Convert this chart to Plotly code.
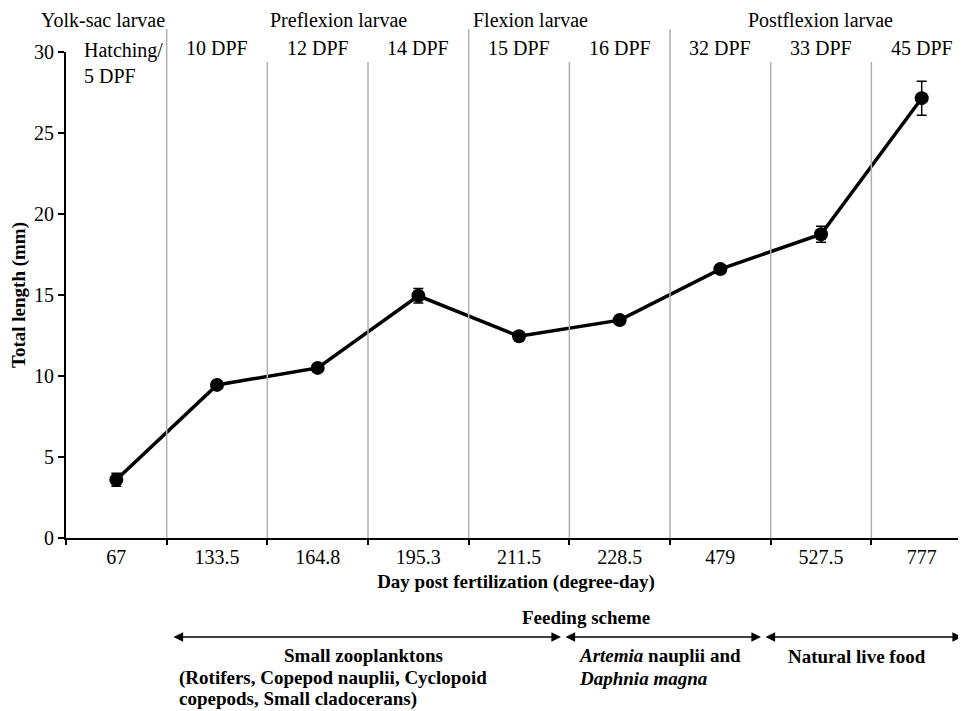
import plotly.graph_objects as go

categories = ["67", "133.5", "164.8", "195.3", "211.5", "228.5", "479", "527.5", "777"]
length_mm = [3.6, 9.45, 10.5, 14.95, 12.45, 13.45, 16.6, 18.75, 27.15]
length_err = [0.4, 0.15, 0.15, 0.45, 0.15, 0.15, 0.25, 0.5, 1.05]
dpf_labels = ["Hatching/<br>5 DPF", "10 DPF", "12 DPF", "14 DPF", "15 DPF", "16 DPF", "32 DPF", "33 DPF", "45 DPF"]
stages = ["Yolk-sac larvae", "Preflexion larvae", "Flexion larvae", "Postflexion larvae"]
stage_centers = [-0.13, 2.21, 4.11, 6.99]
stage_boundaries = [0.5, 3.5, 5.5]
minor_boundaries = [1.5, 2.5, 4.5, 6.5, 7.5]

FONT = "Liberation Serif, Times New Roman, serif"
OFF = 8  # default page body margin
PAGE_W, PAGE_H = 966, 711
W, H = PAGE_W - OFF, PAGE_H - OFF
# plot area in page pixels
PL, PR, PT, PB = 66, 966, 52, 538
L, T = PL - OFF, PT - OFF
B = H - (PB - OFF)
R = W - (PR - OFF)
PH = PB - PT
PW = PR - PL

def py(pix):
    return (PB - pix) / PH

def px(pix):
    return (pix - PL) / PW

fig = go.Figure()
fig.add_trace(go.Scatter(
    x=categories, y=length_mm,
    mode="lines+markers",
    line=dict(color="black", width=3.5),
    marker=dict(color="black", size=14),
    error_y=dict(type="data", array=length_err, color="black", thickness=1.5, width=5),
    showlegend=False, cliponaxis=False,
))

shapes = []
for b in stage_boundaries:
    shapes.append(dict(type="line", xref="x", yref="paper", x0=b, x1=b, y0=0, y1=py(29),
                       line=dict(color="#b0b0b0", width=1.5)))
for b in minor_boundaries:
    shapes.append(dict(type="line", xref="x", yref="paper", x0=b, x1=b, y0=0, y1=py(62),
                       line=dict(color="#b0b0b0", width=1.5)))

ann = []
for i, lab in enumerate(dpf_labels):
    if i == 0:
        ann.append(dict(x=px(82), y=py(37), xref="paper", yref="paper", text=lab, showarrow=False,
                        xanchor="left", yanchor="top", align="left", font=dict(family=FONT, size=20, color="black")))
    else:
        ann.append(dict(x=i, y=py(48), xref="x", yref="paper", text=lab, showarrow=False,
                        xanchor="center", yanchor="middle", font=dict(family=FONT, size=20, color="black")))
for s, c in zip(stages, stage_centers):
    ann.append(dict(x=c, y=py(20), xref="x", yref="paper", text=s, showarrow=False,
                    xanchor="center", yanchor="middle", font=dict(family=FONT, size=20, color="black")))

# feeding scheme
ann.append(dict(x=px(586), y=py(617), xref="paper", yref="paper", text="<b>Feeding scheme</b>", showarrow=False,
                xanchor="center", yanchor="middle", font=dict(family=FONT, size=19, color="black")))
arrows = [(172, 561), (564, 761), (764, 962)]
for a0, a1 in arrows:
    ann.append(dict(x=px(a1), y=py(637), xref="paper", yref="paper", ax=-(a1 - a0), ay=0,
                    showarrow=True, arrowhead=2, startarrowhead=2, arrowside="end+start",
                    arrowsize=1.2, arrowwidth=1.6, arrowcolor="black", text=""))
texts = [
    ("<b>Small zooplanktons</b>", 363, 655, "center"),
    ("<b>(Rotifers, Copepod nauplii, Cyclopoid</b>", 177, 678, "left"),
    ("<b>copepods, Small cladocerans)</b>", 177, 699, "left"),
    ("<b><i>Artemia</i> nauplii and</b>", 577, 655, "left"),
    ("<b><i>Daphnia magna</i></b>", 577, 678, "left"),
    ("<b>Natural live food</b>", 786, 656, "left"),
]
for t, x, y, anc in texts:
    ann.append(dict(x=px(x), y=py(y), xref="paper", yref="paper", text=t, showarrow=False,
                    xanchor=anc, yanchor="middle", font=dict(family=FONT, size=19, color="black")))

fig.update_layout(
    width=W, height=H,
    margin=dict(l=L, r=R, t=T, b=B, autoexpand=False),
    paper_bgcolor="white", plot_bgcolor="white",
    shapes=shapes, annotations=ann,
    font=dict(family=FONT, size=20, color="black"),
)
fig.update_xaxes(
    type="category", categoryorder="array", categoryarray=categories,
    range=[-0.5, 8.44], showgrid=False, zeroline=False, automargin=False,
    showline=True, linecolor="black", linewidth=2,
    ticks="outside", tickson="boundaries", ticklen=5, tickwidth=2, tickcolor="black",
    tickfont=dict(family=FONT, size=20, color="black"),
    title=dict(text="<b>Day post fertilization (degree-day)</b>", font=dict(family=FONT, size=19, color="black"), standoff=8),
)
fig.update_yaxes(
    range=[0, 30], tickvals=[0, 5, 10, 15, 20, 25, 30], showgrid=False, zeroline=False, automargin=False,
    showline=True, linecolor="black", linewidth=2,
    ticks="outside", ticklen=6, tickwidth=2, tickcolor="black",
    tickfont=dict(family=FONT, size=20, color="black"),
    title=dict(text="<b>Total length (mm)</b>", font=dict(family=FONT, size=19, color="black"), standoff=12),
)

fig.write_html("out.html")
